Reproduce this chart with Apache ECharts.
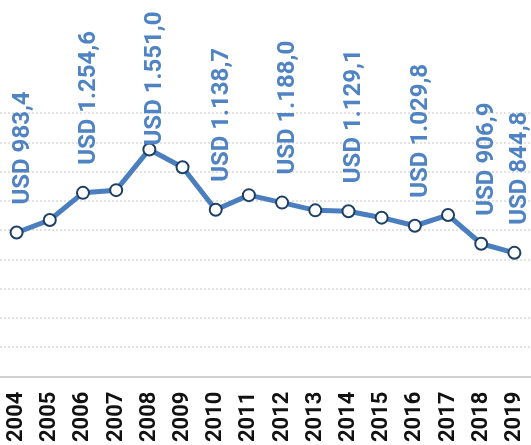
<!DOCTYPE html>
<html>
<head>
<meta charset="utf-8">
<script src="https://cdn.jsdelivr.net/npm/echarts@6/dist/echarts.min.js"></script>
<style>
  html, body { margin: 0; padding: 0; background: #fff; }
  #chart { width: 531px; height: 445px; }
</style>
</head>
<body>
<div id="chart"></div>
<script>
// data
const years = ['2004', '2005', '2006', '2007', '2008', '2009', '2010', '2011',
  '2012', '2013', '2014', '2015', '2016', '2017', '2018', '2019'];
const values = [983.4, 1069, 1254.6, 1273, 1551.0, 1429, 1138.7, 1239,
  1188.0, 1135, 1129.1, 1085, 1029.8, 1103, 906.9, 844.8];
// which points carry a value label
const labelledYears = ['2004', '2006', '2008', '2010', '2012', '2014', '2016', '2018', '2019'];

const lineColor = '#4a7ebf';
const labelColor = '#4f83c3';

// 1234.5 -> "USD 1.234,5"
function fmt(v) {
  const parts = v.toFixed(1).split('.');
  const intPart = parts[0].replace(/\B(?=(\d{3})+(?!\d))/g, '.');
  return 'USD ' + intPart + ',' + parts[1];
}

const chart = echarts.init(document.getElementById('chart'));

const seriesData = values.map((v, i) => {
  const show = labelledYears.indexOf(years[i]) >= 0;
  const item = { value: v, label: { show: show } };
  // the 2008 label is pushed down to stay inside the picture
  if (years[i] === '2008') item.label.distance = -3;
  return item;
});

const option = {
  animation: false,
  grid: { left: 0, right: -3, top: 113, bottom: 67 },
  xAxis: {
    type: 'category',
    data: years,
    boundaryGap: true,
    axisLine: { lineStyle: { color: '#d0d0d0', width: 2 } },
    axisTick: { show: false },
    axisLabel: {
      rotate: 90,
      margin: 15,
      color: '#111',
      fontFamily: 'Roboto',
      fontWeight: 'bold',
      fontSize: 22,
      interval: 0
    }
  },
  yAxis: {
    type: 'value',
    min: 0,
    max: 1800,
    interval: 200,
    axisLabel: { show: false },
    axisLine: { show: false },
    axisTick: { show: false },
    splitLine: { lineStyle: { color: '#e2e2e2', type: 'dotted', width: 2 } }
  },
  series: [
    {
      type: 'line',
      data: seriesData,
      symbol: 'circle',
      symbolSize: 12,
      lineStyle: { color: lineColor, width: 5 },
      itemStyle: { color: '#fff', borderColor: '#1e3f66', borderWidth: 2 },
      label: {
        position: 'top',
        distance: 21,
        rotate: 90,
        align: 'left',
        verticalAlign: 'middle',
        offset: [0, 6],
        color: labelColor,
        fontFamily: 'Roboto',
        fontWeight: 'bold',
        fontSize: 24,
        formatter: (p) => fmt(p.value)
      }
    }
  ]
};

chart.setOption(option);
</script>
</body>
</html>
